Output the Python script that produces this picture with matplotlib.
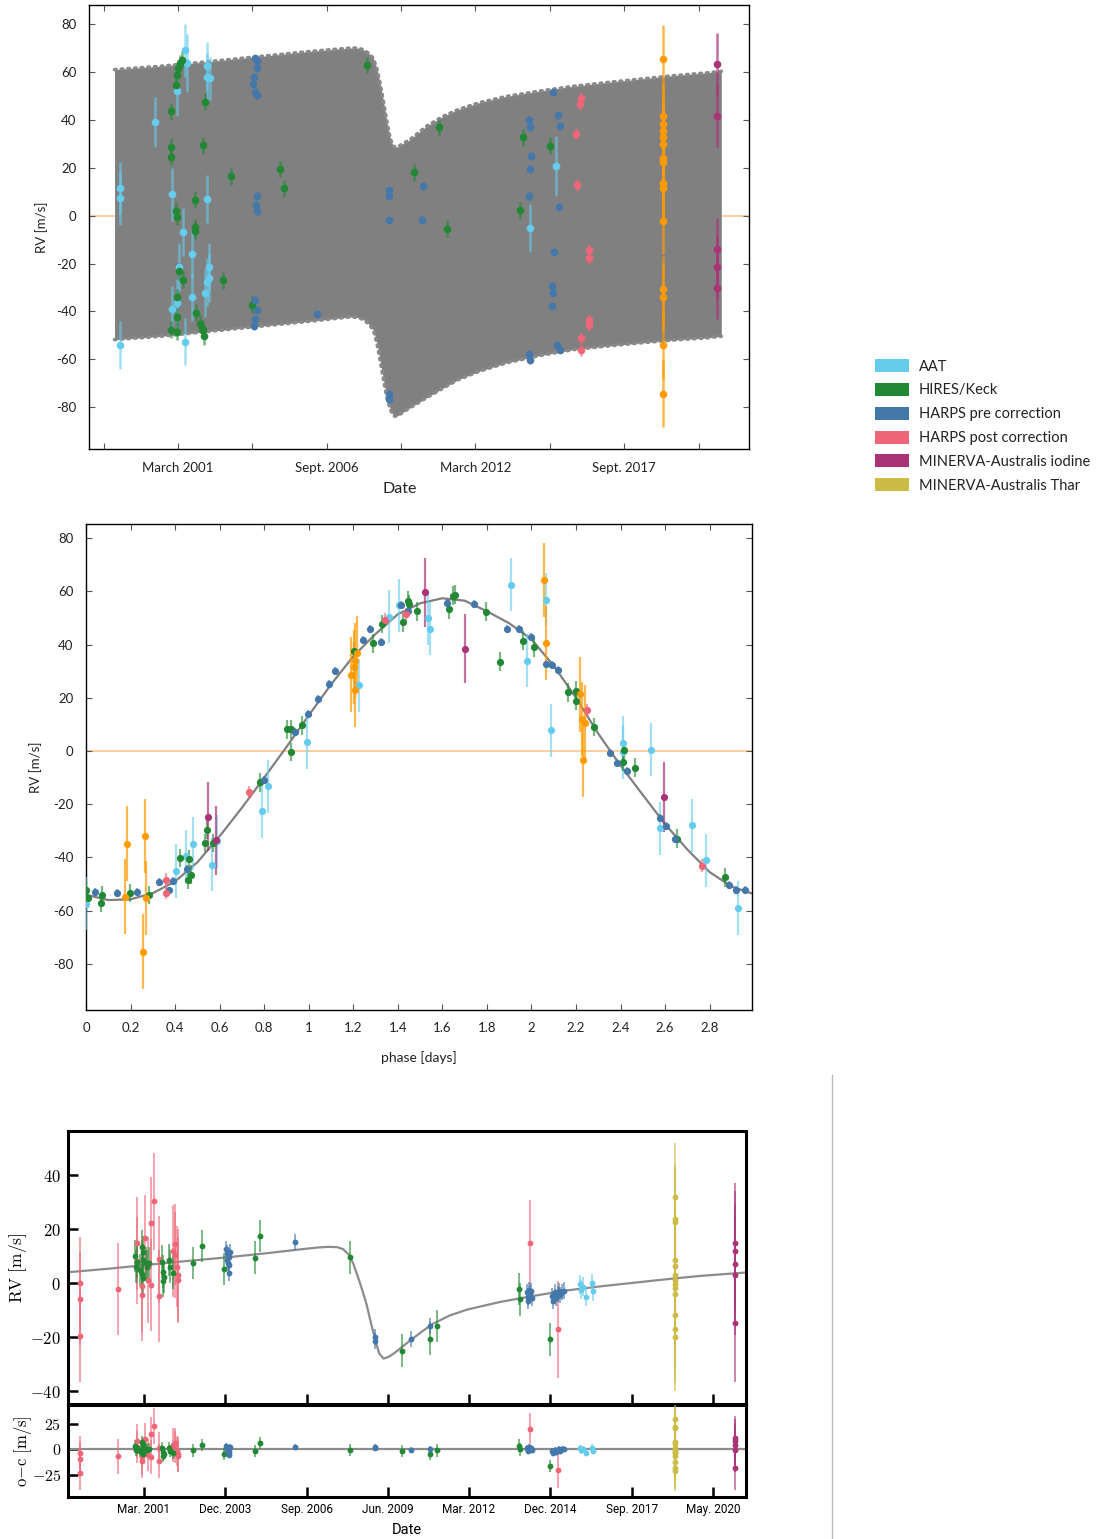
import numpy as np
import matplotlib
matplotlib.use("Agg")
import matplotlib.pyplot as plt
from matplotlib.patches import Patch
from matplotlib.lines import Line2D
from matplotlib.colors import to_rgba

plt.rcParams['font.family'] = ['Lato', 'DejaVu Sans']
plt.rcParams['mathtext.fontset'] = 'cm'
plt.rcParams['axes.unicode_minus'] = False

# --- colours ---
C_AAT = '#66CCEE'
C_HIRES = '#228833'
C_HPRE = '#4477AA'
C_HPOST = '#EE6677'
C_MIOD = '#AA3377'
C_MTHAR = '#CCBB44'
C_ORANGE = '#FF9A00'

legend_labels = ['AAT', 'HIRES/Keck', 'HARPS pre correction', 'HARPS post correction',
                 'MINERVA-Australis iodine', 'MINERVA-Australis Thar']
legend_colors = [C_AAT, C_HIRES, C_HPRE, C_HPOST, C_MIOD, C_MTHAR]

# --- panel 1: RV vs date (decimal year) ---
t1_ticks = [1998.46, 2001.2, 2003.94, 2006.68, 2009.41, 2012.15, 2014.89, 2017.63, 2020.37]
t1_labels = ['', 'March 2001', '', 'Sept. 2006', '', 'March 2012', '', 'Sept. 2017', '']

# envelope of the full model (short-period signal on top of the long-term trend)
env_year = [1998.86, 2000.55, 2002.4, 2004.23, 2006.07, 2007.54, 2007.8, 2008.03, 2008.2,
            2008.39, 2008.52, 2008.64, 2008.76, 2008.88, 2008.98, 2009.07, 2009.18, 2009.31,
            2009.5, 2009.74, 2010.35, 2010.97, 2011.52, 2012.3, 2013.29, 2014.5, 2015.74,
            2017.0, 2018.19, 2019.4, 2020.64, 2021.21]
env_hi = [61.0, 62.4, 64.4, 66.5, 68.6, 70.0, 70.0, 69.3, 68.0, 65.8, 61.5, 55.4, 48.0, 40.0,
          34.0, 30.3, 28.5, 28.8, 30.2, 31.7, 37.3, 41.5, 44.3, 47.2, 49.8, 52.0, 54.0, 55.6,
          57.0, 58.4, 59.6, 60.3]
env_lo = [-51.8, -50.4, -48.3, -46.2, -44.1, -42.3, -42.5, -43.4, -45.0, -47.6, -53.0, -60.1,
          -68.0, -75.4, -79.5, -82.4, -83.8, -83.5, -82.0, -80.3, -76.1, -72.0, -68.5, -65.0,
          -61.5, -58.5, -56.0, -54.5, -53.2, -52.0, -51.1, -50.4]

t1_aat_x = [1999.06, 1999.06, 1999.06, 2000.34, 2000.99, 2001.15, 2001.45, 2001.54, 2001.38,
            2001.22, 2001.16, 2000.99, 2001.46, 2001.73, 2001.73, 2002.27, 2002.28, 2002.38,
            2002.27, 2002.35, 2002.35, 2002.27, 2002.18, 2014.18, 2015.13]
t1_aat_y = [11.6, 7.2, -53.9, 39.1, 8.9, 52.1, 69.0, 63.7, -6.8, -21.6, -36.6, -39.2, -52.6,
            -15.9, -34.2, 62.4, 57.8, 57.3, 7.0, -21.6, -26.2, -27.8, -32.3, -5.1, 20.9]
t1_aat_e = [11, 11, 10, 10.5, 11, 10.5, 11, 12, 10, 10, 10, 10, 10, 10, 10, 10, 10, 9, 10, 10,
            10, 10, 10, 10, 12.5]

t1_hires_x = [2000.93, 2000.93, 2000.93, 2000.93, 2001.11, 2001.16, 2001.19, 2001.29, 2001.36,
              2001.14, 2001.15, 2001.16, 2001.16, 2001.15, 2001.22, 2001.38, 2001.84, 2001.81,
              2001.81, 2002.12, 2002.19, 2001.86, 2002.02, 2002.08, 2002.12, 2002.14, 2002.85,
              2003.15, 2003.91, 2004.95, 2005.11, 2008.16, 2009.88, 2010.83, 2011.09, 2013.89,
              2014.89, 2013.81]
t1_hires_y = [43.6, 28.8, 24.6, -47.6, 54.7, 58.9, 61.7, 63.7, 65.1, 2.1, -0.4, -34.1, -42.3,
              -48.6, -23.2, -26.7, 6.7, -4.9, -6.3, 29.4, 47.6, -40.6, -45.1, -46.9, -47.6,
              -50.4, -27.1, 16.4, -37.2, 19.5, 11.4, 62.9, 18.1, 36.9, -5.4, 32.7, 29.2, 2.2]

t1_hpre_x = [2004.04, 2004.1, 2004.1, 2004.01, 2003.95, 2004.04, 2004.1, 2004.1, 2004.08, 2004.1,
             2004.04, 2004.1, 2004.04, 2003.98, 2006.31, 2008.98, 2008.98, 2008.98, 2008.98,
             2008.98, 2010.22, 2010.2, 2014.13, 2014.15, 2014.21, 2014.18, 2014.13, 2014.13,
             2014.18, 2015.02, 2015.19, 2015.27, 2015.25, 2015.05, 2014.96, 2015.0, 2014.96,
             2015.17, 2015.26]
t1_hpre_y = [65.8, 64.4, 61.7, 57.9, 55.1, 51.5, 50.2, 8.4, 4.6, 1.8, -35.1, -39.5, -43.1, -46.2,
             -40.9, 10.6, 8.1, -1.9, -74.7, -76.8, 12.4, -1.7, 40.1, 37.0, 24.9, 19.5, 8.2,
             -57.8, -60.5, 51.5, 42.0, 37.4, 3.6, -15.0, -29.2, -32.4, -37.6, -54.1, -56.0]

t1_hpost_x = [2016.06, 2016.02, 2015.87, 2015.89, 2016.35, 2016.34, 2016.33, 2016.33, 2016.04, 2016.06]
t1_hpost_y = [49.0, 46.8, 34.1, 12.7, -14.3, -17.8, -43.7, -45.5, -51.2, -56.0]

t1_thar_x = [2019.05] * 15
t1_thar_y = [65.6, 41.6, 38.3, 35.5, 32.9, 29.9, 24.2, 22.4, 13.5, 11.6, -2.1, -30.8, -34.0,
             -54.1, -74.4]

t1_iod_x = [2021.06] * 5
t1_iod_y = [63.2, 41.6, -14.1, -21.6, -30.2]

# --- panel 2: phase folded ---
ph_model_x = [0.0, 0.1, 0.2, 0.3, 0.4, 0.5, 0.6, 0.7, 0.8, 0.9, 1.0, 1.1, 1.2, 1.3, 1.4, 1.5,
              1.6, 1.7, 1.8, 1.9, 2.0, 2.1, 2.2, 2.3, 2.4, 2.5, 2.6, 2.7, 2.8, 2.9, 2.99]
ph_model_y = [-54.0, -56.0, -55.7, -53.4, -49.0, -41.8, -32.0, -21.3, -10.0, 1.5, 13.4, 25.0,
              35.6, 44.0, 51.4, 55.5, 57.4, 56.5, 52.5, 48.0, 42.0, 32.0, 20.0, 6.5, -5.5, -16.5,
              -27.5, -37.0, -45.5, -51.0, -53.5]

ph_aat_x = [0.0, 0.404, 0.451, 0.479, 0.566, 0.588, 0.789, 0.816, 0.990, 1.225, 1.359, 1.403,
            1.536, 1.546, 1.906, 1.981, 2.064, 2.088, 2.412, 2.409, 2.535, 2.577, 2.721, 2.784, 2.929]
ph_aat_y = [-57.4, -45.1, -39.5, -34.8, -42.7, -33.9, -22.5, -13.2, 3.4, 24.7, 50.5, 54.7, 49.9,
            46.0, 62.5, 33.9, 56.9, 7.8, 3.0, -0.4, 0.5, -29.0, -27.9, -41.0, -59.0]

ph_hires_x = [0.0, 0.007, 0.067, 0.072, 0.199, 0.281, 0.422, 0.457, 0.464, 0.472, 0.534, 0.542,
              0.569, 0.783, 0.901, 0.919, 0.922, 0.970, 1.202, 1.287, 1.329, 1.422, 1.445, 1.449,
              1.485, 1.630, 1.648, 1.655, 1.798, 1.858, 1.960, 2.010, 2.166, 2.202, 2.202, 2.280,
              2.409, 2.415, 2.464, 2.655, 2.869]
ph_hires_y = [-52.4, -55.4, -57.0, -54.1, -53.4, -54.1, -40.2, -48.4, -40.5, -46.4, -34.6, -29.5,
              -34.6, -11.8, 8.1, 8.1, -0.4, 9.7, 37.6, 40.5, 47.7, 48.4, 56.5, 55.1, 52.5, 53.2,
              58.4, 58.7, 52.4, 33.6, 41.5, 38.9, 22.1, 22.7, 18.9, 9.0, -4.0, 0.4, -6.3, -32.9,
              -47.5]

ph_hpre_x = [0.040, 0.138, 0.229, 0.326, 0.373, 0.389, 0.454, 0.798, 0.937, 0.996, 1.042, 1.090,
             1.120, 1.243, 1.275, 1.326, 1.416, 1.445, 1.621, 1.744, 1.892, 1.943, 1.996, 2.063,
             2.094, 2.121, 2.354, 2.382, 2.427, 2.575, 2.602, 2.643, 2.888, 2.918, 2.959]
ph_hpre_y = [-52.8, -53.2, -52.8, -49.1, -52.4, -48.8, -44.4, -10.7, 7.3, 14.0, 19.6, 25.3, 30.0,
             41.9, 45.8, 40.9, 55.0, 52.8, 55.7, 55.4, 45.9, 45.9, 42.7, 32.8, 32.5, 30.5, -0.9,
             -4.5, -7.5, -25.0, -28.0, -33.2, -50.2, -52.1, -52.1]

ph_hpost_x = [0.361, 0.361, 0.734, 1.344, 1.437, 2.247, 2.764]
ph_hpost_y = [-48.4, -53.2, -15.5, 49.3, 51.4, 15.3, -43.1]

ph_iod_x = [0.548, 0.584, 1.521, 1.702, 2.593]
ph_iod_y = [-24.7, -33.5, 59.6, 38.5, -17.3]

ph_thar_x = [0.175, 0.186, 0.263, 0.256, 0.268, 1.190, 1.201, 1.207, 1.217, 1.208, 2.057, 2.064,
             2.220, 2.229, 2.240, 2.232]
ph_thar_y = [-54.7, -34.8, -31.9, -75.4, -55.3, 28.7, 31.6, 34.0, 36.9, 23.1, 64.3, 40.5, 21.3,
             12.0, 10.7, -3.4]

# --- panel 3: long-term trend with residuals ---
b_ticks = [2001.2, 2003.94, 2006.68, 2009.41, 2012.15, 2014.89, 2017.63, 2020.37]
b_labels = ['Mar. 2001', 'Dec. 2003', 'Sep. 2006', 'Jun. 2009', 'Mar. 2012', 'Dec. 2014',
            'Sep. 2017', 'May. 2020']

m_year = [1998.64, 2000.0, 2001.2, 2002.5, 2003.9, 2005.3, 2006.5, 2007.0, 2007.4, 2007.7,
          2007.9, 2008.1, 2008.25, 2008.4, 2008.55, 2008.7, 2008.85, 2008.99, 2009.12, 2009.27,
          2009.45, 2009.65, 2009.9, 2010.2, 2010.5, 2010.9, 2011.5, 2012.1, 2013.2, 2014.3,
          2015.4, 2016.6, 2017.7, 2018.8, 2019.9, 2021.48]
m_rv = [4.0, 5.3, 6.6, 8.0, 9.4, 11.0, 12.5, 13.1, 13.4, 13.3, 12.6, 10.5, 7.2, 2.5, -2.5, -8.0,
        -15.0, -21.0, -26.0, -28.0, -27.3, -25.8, -23.6, -21.0, -18.5, -15.3, -12.0, -9.8, -7.0,
        -4.8, -2.8, -1.2, 0.1, 1.4, 2.6, 3.9]

b_aat_x = [1999.05, 1999.05, 1999.05, 2000.31, 2000.98, 2000.98, 2001.14, 2001.14, 2001.22,
           2001.44, 2001.55, 2001.70, 2001.72, 2001.45, 2001.35, 2002.19, 2002.24, 2002.25,
           2002.32, 2002.34, 2002.34, 2014.21, 2015.14]
b_aat_y = [0.1, -5.9, -19.7, -2.1, 14.7, 8.3, -1.1, -4.4, 16.6, 22.1, 30.2, 8.8, -4.7, -0.6, 1.1,
           11.9, 14.3, 10.4, 6.1, 3.0, 1.1, 14.7, -17.2]
b_aat_r = [-3.5, -9.7, -22.9, -6.8, 8.7, 2.3, -7.6, -10.9, 10.0, 15.3, 23.0, 1.7, -11.5, -7.4,
           -5.6, 4.3, 6.6, 2.7, -1.7, -4.8, -6.7, 20.0, -20.0]
b_aat_e = [17, 17, 17, 17, 17, 16, 17, 17, 16, 17, 18, 16, 17, 17, 16, 17, 15, 16, 15, 17, 16,
           16, 18]

b_hires_x = [2000.91, 2000.92, 2000.98, 2001.07, 2001.14, 2001.16, 2001.17, 2001.17, 2001.14,
             2001.27, 2001.31, 2001.37, 2001.80, 2001.84, 2001.85, 2001.87, 2002.04, 2002.09,
             2002.17, 2002.85, 2003.14, 2003.89, 2004.95, 2005.10, 2008.15, 2009.90, 2010.85,
             2011.08, 2013.84, 2013.88, 2014.89]
b_hires_y = [10.0, 6.1, 7.9, 4.8, 13.5, 11.6, 8.5, 1.7, 3.3, 7.3, 6.1, 7.3, 7.9, 4.2, 0.7, 2.3,
             8.5, 6.1, 3.8, 7.5, 13.7, 5.3, 9.4, 17.4, 9.5, -25.0, -20.6, -15.9, -2.3, -6.1, -20.9]
b_hires_r = [3.7, -0.2, 1.6, -1.6, 7.0, 5.1, 2.0, -4.8, -3.2, 0.7, -0.5, 0.6, 1.0, -2.7, -6.2,
             -4.6, 1.3, -1.1, -3.5, -1.0, 4.8, -4.1, -1.3, 6.5, -0.3, -1.6, -4.2, -1.0, 3.9, 0.0,
             -16.0]

b_hpre_x = [2003.96, 2004.00, 2004.05, 2003.98, 2004.02, 2004.09, 2004.07, 2004.03, 2004.06,
            2006.30, 2008.99, 2008.99, 2010.20, 2010.85, 2014.09, 2014.13, 2014.17, 2014.20,
            2014.24, 2014.27, 2014.15, 2014.93, 2014.98, 2015.03, 2015.08, 2015.13, 2015.18,
            2015.23, 2015.28, 2015.34]
b_hpre_y = [12.6, 11.2, 9.8, 8.5, 7.3, 11.6, 3.8, 10.5, 6.5, 15.3, -19.9, -21.4, -20.8, -15.9,
            -3.5, -5.0, -2.5, -4.2, -3.0, -5.5, -6.5, -4.8, -6.5, -3.5, -5.5, -4.0, -3.0, -4.5,
            -3.2, -2.8]
b_hpre_r = [3.2, 1.8, 0.4, -0.9, -2.1, 2.2, -5.6, 1.1, -2.9, 2.9, 2.9, 1.3, -0.3, 0.0, 1.3, -0.2,
            2.3, 0.6, 1.8, -0.7, -1.7, -1.6, -3.3, -0.3, -2.3, -0.8, 0.2, -1.3, 0.0, 0.4]

b_hpost_x = [2015.88, 2015.99, 2016.08, 2016.30, 2016.32, 2015.93]
b_hpost_y = [-0.5, -1.4, -5.1, 0.0, -3.0, -2.5]
b_hpost_r = [1.3, 0.4, -3.3, 1.8, -1.2, -0.7]

b_thar_x = [2019.08] * 13
b_thar_y = [31.8, 23.6, 22.7, 8.5, 6.3, 3.0, 1.1, -0.4, -2.0, -4.2, -11.9, -17.2, -19.9]
b_thar_r = [30.0, 22.0, 21.0, 7.5, 5.0, 1.8, -0.6, -2.2, -3.8, -6.0, -12.5, -18.5, -21.0]

b_iod_x = [2021.12] * 5
b_iod_y = [15.0, 12.0, 7.2, 2.8, -14.7]
b_iod_r = [11.5, 8.5, 4.0, -0.5, -18.0]


def draw_points(ax, x, y, err, color, ms, elw, ealpha=0.6, z=3):
    ax.errorbar(x, y, yerr=err, fmt='o', ms=ms, mfc=color, mec=color, mew=0,
                ecolor=to_rgba(color, ealpha), elinewidth=elw, capsize=0, zorder=z)


W, H = 1107, 1539
fig = plt.figure(figsize=(W / 100, H / 100), dpi=100)

TXT = '#222222'
ZERO = '#FFCC99'
BAND = '#808080'

# ---------- panel 1 ----------
ax1 = fig.add_axes([89 / W, 1 - 449 / H, 660 / W, 444 / H])
ax1.axhline(0, color=ZERO, lw=1.3, zorder=0)
ax1.fill_between(env_year, env_lo, env_hi, color=BAND, lw=0, zorder=1)
# bumpy edges of the densely sampled model
for edge in (env_hi, env_lo):
    ax1.plot(env_year, edge, color='#8a8a8a', lw=2.6, ls=(0, (0.45, 1.4)),
             dash_capstyle='round', zorder=1)
draw_points(ax1, t1_aat_x, t1_aat_y, t1_aat_e, C_AAT, 5.5, 1.8)
draw_points(ax1, t1_hires_x, t1_hires_y, 3.5, C_HIRES, 5.5, 1.8)
draw_points(ax1, t1_hpre_x, t1_hpre_y, 1.5, C_HPRE, 5.5, 1.8)
draw_points(ax1, t1_hpost_x, t1_hpost_y, 2.5, C_HPOST, 5.5, 1.8)
draw_points(ax1, t1_thar_x, t1_thar_y, 14, C_ORANGE, 5.5, 1.8, 0.7)
draw_points(ax1, t1_iod_x, t1_iod_y, 13, C_MIOD, 5.5, 1.8, 0.7)
ax1.set_xlim(1997.92, 2022.23)
ax1.set_ylim(-97.5, 88)
ax1.set_xticks(t1_ticks)
ax1.set_xticklabels(t1_labels)
ax1.set_yticks(np.arange(-80, 81, 20))
ax1.tick_params(direction='in', top=True, right=True, length=4, width=0.8,
                labelsize=9.5, pad=9, colors='#555555', labelcolor=TXT)
ax1.set_xlabel('Date', fontsize=11.5, color=TXT)
ax1.xaxis.set_label_coords(0.47, -0.075)
ax1.set_ylabel('RV [m/s]', fontsize=9.5, color=TXT, labelpad=6)
for s in ax1.spines.values():
    s.set_linewidth(1.0)

fig.legend(handles=[Patch(facecolor=c, edgecolor='none', label=l)
                    for c, l in zip(legend_colors, legend_labels)],
           loc='upper left', bbox_to_anchor=(875 / W, 1 - 359 / H), frameon=False,
           fontsize=10.5, handlelength=2.3, handleheight=1.0, handletextpad=0.7,
           labelspacing=0.64, borderpad=0, borderaxespad=0, labelcolor=TXT)

# ---------- panel 2 ----------
ax2 = fig.add_axes([86 / W, 1 - 1010 / H, 666 / W, 486 / H])
ax2.axhline(0, color=ZERO, lw=1.3, zorder=0)
ax2.plot(ph_model_x, ph_model_y, color='#808080', lw=1.6, zorder=2)
draw_points(ax2, ph_aat_x, ph_aat_y, 10, C_AAT, 5.2, 1.6)
draw_points(ax2, ph_hires_x, ph_hires_y, 3.5, C_HIRES, 5.2, 1.6)
draw_points(ax2, ph_hpre_x, ph_hpre_y, 1.5, C_HPRE, 5.2, 1.6)
draw_points(ax2, ph_hpost_x, ph_hpost_y, 2.5, C_HPOST, 5.2, 1.6)
draw_points(ax2, ph_iod_x, ph_iod_y, 13, C_MIOD, 5.2, 1.6, 0.7)
draw_points(ax2, ph_thar_x, ph_thar_y, 14, C_ORANGE, 5.2, 1.6, 0.7)
ax2.set_xlim(0, 2.99)
ax2.set_ylim(-97.3, 85.3)
ph_ticks = np.arange(0, 2.81, 0.2)
ax2.set_xticks(ph_ticks)
ax2.set_xticklabels([f'{v:g}' for v in np.round(ph_ticks, 1)])
ax2.set_yticks(np.arange(-80, 81, 20))
ax2.tick_params(direction='in', top=True, right=True, length=4, width=0.8,
                labelsize=9.5, pad=9, colors='#555555', labelcolor=TXT)
ax2.set_xlabel('phase [days]', fontsize=10, color=TXT, labelpad=12)
ax2.set_ylabel('RV [m/s]', fontsize=9.5, color=TXT, labelpad=8)
for s in ax2.spines.values():
    s.set_linewidth(1.0)

# ---------- panel 3 ----------
ax3 = fig.add_axes([68 / W, 1 - 1404 / H, 678 / W, 273 / H])
ax4 = fig.add_axes([68 / W, 1 - 1497 / H, 678 / W, 92 / H], sharex=ax3)

ax3.plot(m_year, m_rv, color='#8c8c8c', lw=1.6, zorder=2)
ax4.axhline(0, color='#8c8c8c', lw=1.6, zorder=2)
for ax, yb in ((ax3, 'y'), (ax4, 'r')):
    sets = [
        (b_aat_x, b_aat_y, b_aat_r, b_aat_e, C_HPOST),
        (b_hires_x, b_hires_y, b_hires_r, 6, C_HIRES),
        (b_hpre_x, b_hpre_y, b_hpre_r, 3, C_HPRE),
        (b_hpost_x, b_hpost_y, b_hpost_r, 3.5, C_AAT),
        (b_thar_x, b_thar_y, b_thar_r, 20, C_MTHAR),
        (b_iod_x, b_iod_y, b_iod_r, 22, C_MIOD),
    ]
    for x, y, r, e, c in sets:
        draw_points(ax, x, y if yb == 'y' else r, e, c, 4.2, 1.4, 0.6)

ax3.set_xlim(1998.64, 2021.48)
ax3.set_ylim(-44.8, 56.3)
ax3.set_yticks([-40, -20, 0, 20, 40])
ax3.set_yticklabels([r'$-40$', r'$-20$', r'$0$', r'$20$', r'$40$'])
ax3.set_ylabel(r'$\mathrm{RV\ [m/s]}$', fontsize=12.5, labelpad=1)
ax3.tick_params(axis='x', labelbottom=False)

ax4.set_ylim(-47, 44)
ax4.set_yticks([-25, 0, 25])
ax4.set_yticklabels([r'$-25$', r'$0$', r'$25$'])
ax4.set_ylabel(r'$\mathrm{o{-}c\ [m/s]}$', fontsize=12, labelpad=-2)
ax4.set_xticks(b_ticks)
ax4.set_xticklabels(b_labels, fontfamily='Roboto', fontsize=8.5)
ax4.set_xlabel('Date', fontfamily='Roboto', fontsize=10.5, labelpad=5)

for ax in (ax3, ax4):
    ax.tick_params(direction='in', length=7, width=1.8, labelsize=12, pad=5)
    ax.tick_params(axis='x', labelsize=8.5, pad=4)
    for s in ax.spines.values():
        s.set_linewidth(2.2)
ax4.tick_params(axis='y', labelsize=11.5)

# thin separator line on the right side of the lower panel
fig.add_artist(Line2D([832 / W, 832 / W], [0, 1 - 1075 / H], transform=fig.transFigure,
                      color='#bbbbbb', lw=1))

fig.savefig('out.png', dpi=100)
